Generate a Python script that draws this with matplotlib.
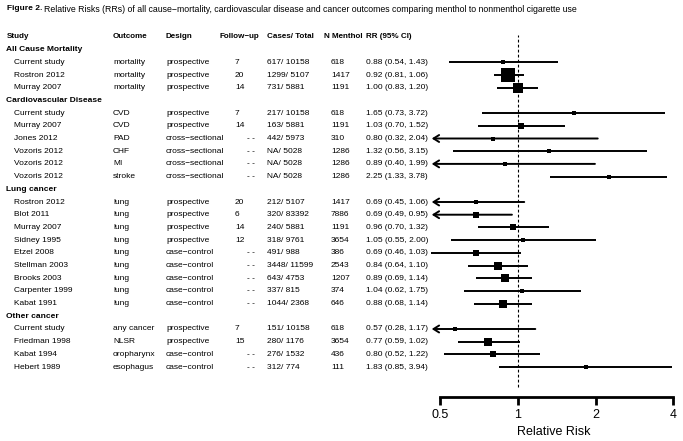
import matplotlib.pyplot as plt
from matplotlib.transforms import blended_transform_factory

plt.rcParams['font.family'] = ['Liberation Sans', 'DejaVu Sans']

# groups and rows (study, outcome, design, follow-up, cases/total, n menthol)
groups = ['All Cause Mortality', 'Cardiovascular Disease', 'Lung cancer', 'Other cancer']
group_size = [3, 6, 9, 4]

study = ['Current study', 'Rostron 2012', 'Murray 2007',
         'Current study', 'Murray 2007', 'Jones 2012', 'Vozoris 2012', 'Vozoris 2012', 'Vozoris 2012',
         'Rostron 2012', 'Blot 2011', 'Murray 2007', 'Sidney 1995', 'Etzel 2008', 'Stellman 2003',
         'Brooks 2003', 'Carpenter 1999', 'Kabat 1991',
         'Current study', 'Friedman 1998', 'Kabat 1994', 'Hebert 1989']
outcome = ['mortality', 'mortality', 'mortality',
           'CVD', 'CVD', 'PAD', 'CHF', 'MI', 'stroke',
           'lung', 'lung', 'lung', 'lung', 'lung', 'lung', 'lung', 'lung', 'lung',
           'any cancer', 'NLSR', 'oropharynx', 'esophagus']
design = ['prospective'] * 3 + ['prospective'] * 2 + ['cross\u2212sectional'] * 4 + \
         ['prospective'] * 4 + ['case\u2212control'] * 5 + \
         ['prospective'] * 2 + ['case\u2212control'] * 2
followup = ['7', '20', '14', '7', '14', '', '', '', '', '20', '6', '14', '12', '', '', '', '', '',
            '7', '15', '', '']
cases = ['617/ 10158', '1299/ 5107', '731/ 5881',
         '217/ 10158', '163/ 5881', '442/ 5973', 'NA/ 5028', 'NA/ 5028', 'NA/ 5028',
         '212/ 5107', '320/ 83392', '240/ 5881', '318/ 9761', '491/ 988', '3448/ 11599',
         '643/ 4753', '337/ 815', '1044/ 2368',
         '151/ 10158', '280/ 1176', '276/ 1532', '312/ 774']
n_menthol = ['618', '1417', '1191',
             '618', '1191', '310', '1286', '1286', '1286',
             '1417', '7886', '1191', '3654', '386', '2543', '1207', '374', '646',
             '618', '3654', '436', '111']

rr = [0.88, 0.92, 1.00,
      1.65, 1.03, 0.80, 1.32, 0.89, 2.25,
      0.69, 0.69, 0.96, 1.05, 0.69, 0.84, 0.89, 1.04, 0.88,
      0.57, 0.77, 0.80, 1.83]
lo = [0.54, 0.81, 0.83,
      0.73, 0.70, 0.32, 0.56, 0.40, 1.33,
      0.45, 0.49, 0.70, 0.55, 0.46, 0.64, 0.69, 0.62, 0.68,
      0.28, 0.59, 0.52, 0.85]
hi = [1.43, 1.06, 1.20,
      3.72, 1.52, 2.04, 3.15, 1.99, 3.78,
      1.06, 0.95, 1.32, 2.00, 1.03, 1.10, 1.14, 1.75, 1.14,
      1.17, 1.02, 1.22, 3.94]
# relative study weight (box size)
weight = [4.5, 13, 10,
          3, 5.5, 3, 3, 3, 4.5,
          4.5, 6, 6, 3.5, 5, 7, 7.5, 3.5, 7.5,
          3, 7, 5, 3]
# rows drawn with a clipped (arrow) lower end in the original
clipped = [False, False, False,
           False, False, True, False, True, False,
           True, True, False, False, False, False, False, False, False,
           True, False, False, False]

W, H = 683, 441
fig = plt.figure(figsize=(W / 100, H / 100), dpi=100)

row0, step = 36.9, 12.7
ax = fig.add_axes([425 / W, 1 - 397 / H, (683 - 425) / W, (397 - 30) / H])
ax.set_xscale('log')
ax.set_xlim(0.438, 4.36)
ax.set_ylim((397 - row0) / step, (30 - row0) / step)
tr = blended_transform_factory(fig.transFigure, ax.transData)

def put(xpx, y, s, size=6, **kw):
    ax.text(xpx / W, y, s, transform=tr, va='center', ha='left', fontsize=size, clip_on=False, **kw)

fig.text(7 / W, 1 - 9 / H, 'Figure 2.', fontsize=6, fontweight='bold', va='center')
fig.text(44 / W, 1 - 9 / H,
         'Relative Risks (RRs) of all cause\u2212mortality, cardiovascular disease and cancer outcomes '
         'comparing menthol to nonmenthol cigarette use', fontsize=6.3, va='center')

header = ['Study', 'Outcome', 'Design', 'Follow\u2212up', 'Cases/ Total', 'N Menthol', 'RR (95% CI)']
header_x = [7, 113, 165, 220, 267, 324, 366]
for hx, h in zip(header_x, header):
    put(hx, 0, h, size=5.8, fontweight='bold')

clip_lo = 0.465
y = 1
k = 0
for g, n in zip(groups, group_size):
    put(6, y, g, fontweight='bold')
    y += 1
    for j in range(n):
        put(14, y, study[k])
        put(113, y, outcome[k])
        put(166, y, design[k])
        if followup[k]:
            put(235, y, followup[k])
        else:
            put(247, y, '- -')
        put(267, y, cases[k])
        put(331, y, n_menthol[k])
        put(366, y, '%.2f (%.2f, %.2f)' % (rr[k], lo[k], hi[k]))
        if clipped[k]:
            ax.annotate('', xy=(clip_lo, y), xytext=(hi[k], y),
                        arrowprops=dict(arrowstyle='->,head_length=0.4,head_width=0.25',
                                        lw=1.4, color='black', shrinkA=0, shrinkB=0),
                        annotation_clip=False)
        else:
            ax.plot([lo[k], hi[k]], [y, y], color='black', lw=1.4, solid_capstyle='butt', clip_on=False)
        ax.plot(rr[k], y, marker='s', color='black', markersize=weight[k] * 0.75, mew=0)
        y += 1
        k += 1

ax.axvline(1, ymin=0.028, ymax=0.986, color='black', lw=0.8, ls=(0, (2.5, 2)))

for s in ['top', 'right', 'left']:
    ax.spines[s].set_visible(False)
ax.spines['bottom'].set_bounds(0.5, 4)
ax.spines['bottom'].set_linewidth(2)
ax.set_yticks([])
ax.set_xticks([0.5, 1, 2, 4])
ax.set_xticklabels(['0.5', '1', '2', '4'])
ax.minorticks_off()
ax.tick_params(axis='x', direction='out', length=6, width=2, labelsize=9, pad=3)
ax.set_xlabel('Relative Risk', fontsize=9, labelpad=3)

fig.savefig('out.png', dpi=100)
